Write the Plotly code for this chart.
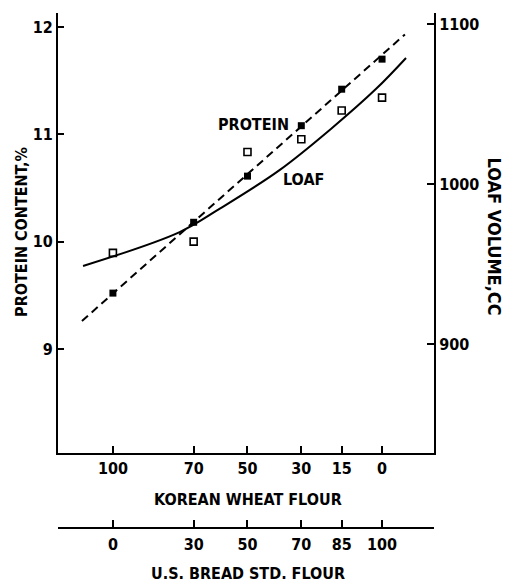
import plotly.graph_objects as go

# ---- data ----
us_pct = [0, 30, 50, 70, 85, 100]            # U.S. bread std. flour, %
korean_pct = [100, 70, 50, 30, 15, 0]         # Korean wheat flour, %
protein = [9.52, 10.18, 10.61, 11.08, 11.42, 11.70]   # protein content, %
loaf = [957, 964, 1020, 1028, 1046, 1054]             # loaf volume, cc

protein_line_x = [-11.5, 108.5]
protein_line_y = [9.26, 11.93]

loaf_curve_x = [-11.1, 24.8, 39.6, 61.9, 81.1, 97.8, 108.9]
loaf_curve_y = [948.8, 970.0, 984.5, 1008.7, 1034.6, 1059.5, 1078.8]

left_ticks = [9, 10, 11, 12]
right_ticks = [900, 1000, 1100]

FONT = "DejaVu Sans Condensed, DejaVu Sans, sans-serif"
BLACK = "black"

fig = go.Figure()

fig.add_trace(go.Scatter(x=protein_line_x, y=protein_line_y, mode="lines",
                         line=dict(color=BLACK, width=2, dash="8px,5px"),
                         showlegend=False, hoverinfo="skip"))
fig.add_trace(go.Scatter(x=us_pct, y=protein, mode="markers",
                         marker=dict(symbol="square", size=7, color=BLACK),
                         showlegend=False))
fig.add_trace(go.Scatter(x=loaf_curve_x, y=loaf_curve_y, mode="lines", yaxis="y2",
                         line=dict(color=BLACK, width=2, shape="spline", smoothing=1.0),
                         showlegend=False, hoverinfo="skip"))
fig.add_trace(go.Scatter(x=us_pct, y=loaf, mode="markers", yaxis="y2",
                         marker=dict(symbol="square-open", size=7, color=BLACK,
                                     line=dict(width=1.6, color=BLACK)),
                         showlegend=False))
# invisible trace to activate secondary x axis
fig.add_trace(go.Scatter(x=us_pct, y=protein, xaxis="x2", mode="markers",
                         marker=dict(opacity=0), showlegend=False, hoverinfo="skip"))

xrange = [-20.4, 119.3]
tickfont = dict(family=FONT, size=16, color=BLACK, weight="bold")

# page body adds an 8px offset, so margins are shifted up/left by 8px
fig.update_layout(
    width=517, height=587,
    margin=dict(l=50, r=91, t=5, b=67, autoexpand=False),
    paper_bgcolor="white", plot_bgcolor="white",
    showlegend=False,
    xaxis=dict(range=xrange, domain=[0, 1], anchor="y", automargin=False,
               tickvals=us_pct, ticktext=[str(v) for v in korean_pct],
               ticks="inside", ticklen=7, tickwidth=2, tickcolor=BLACK,
               showline=True, linewidth=2, linecolor=BLACK,
               showgrid=False, zeroline=False, tickfont=tickfont,
               ticklabelstandoff=0),
    xaxis2=dict(range=xrange, overlaying="x", anchor="free", position=0, side="bottom",
                automargin=False,
                tickvals=us_pct, ticktext=[str(v) for v in us_pct],
                ticks="inside", ticklen=7, tickwidth=2, tickcolor=BLACK,
                showline=True, linewidth=2, linecolor=BLACK,
                showgrid=False, zeroline=False, tickfont=tickfont,
                ticklabelstandoff=2),
    yaxis=dict(range=[8.03, 12.13], domain=[0.1456, 1], anchor="x", automargin=False,
               tickvals=left_ticks, ticks="inside", ticklen=6, tickwidth=2, tickcolor=BLACK,
               showline=True, linewidth=2, linecolor=BLACK,
               showgrid=False, zeroline=False, tickfont=tickfont),
    yaxis2=dict(range=[831.9, 1106.9], overlaying="y", side="right", anchor="x",
                automargin=False,
                tickvals=right_ticks, ticks="inside", ticklen=7, tickwidth=2, tickcolor=BLACK,
                showline=True, linewidth=2, linecolor=BLACK,
                showgrid=False, zeroline=False, tickfont=tickfont),
)

ann_font = dict(family=FONT, size=16, color=BLACK, weight="bold")
annotations = [
    dict(text="KOREAN WHEAT FLOUR", x=0.505, y=0.0544, xref="paper", yref="paper",
         showarrow=False, xanchor="center", yanchor="middle", font=ann_font),
    dict(text="U.S. BREAD STD. FLOUR", x=0.505, y=-0.0874, xref="paper", yref="paper",
         showarrow=False, xanchor="center", yanchor="middle", font=ann_font),
    dict(text="PROTEIN CONTENT,%", x=-0.0957, y=0.575, xref="paper", yref="paper",
         showarrow=False, xanchor="center", yanchor="middle", textangle=-90,
         font=dict(family=FONT, size=16, color=BLACK, weight="bold")),
    dict(text="LOAF VOLUME,CC", x=1.1596, y=0.566, xref="paper", yref="paper",
         showarrow=False, xanchor="center", yanchor="middle", textangle=90,
         font=dict(family=FONT, size=18, color=BLACK, weight="bold")),
    dict(text="PROTEIN", x=52.2, y=11.09, xref="x", yref="y",
         showarrow=False, xanchor="center", yanchor="middle", font=ann_font),
    dict(text="LOAF", x=70.7, y=10.575, xref="x", yref="y",
         showarrow=False, xanchor="center", yanchor="middle", font=ann_font),
]
fig.update_layout(annotations=annotations)

fig.write_html("out.html")
